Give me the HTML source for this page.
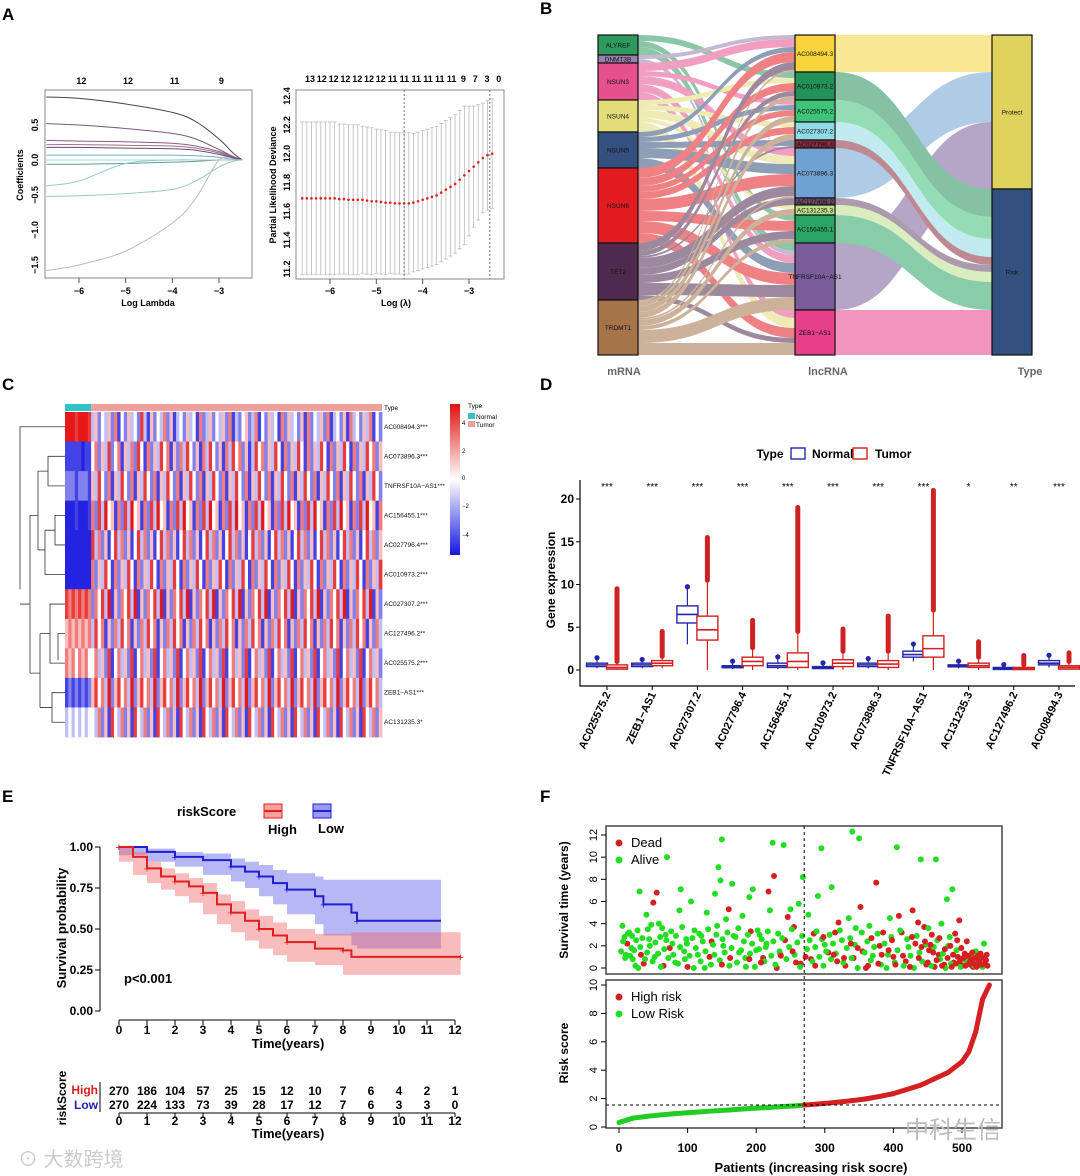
<!DOCTYPE html>
<html><head><meta charset="utf-8"><title>Figure</title>
<style>
html,body{margin:0;padding:0;background:#fff}
svg{display:block;font-family:"Liberation Sans","Noto Sans CJK SC",sans-serif}
</style></head>
<body>
<svg id="fig" width="1080" height="1176" viewBox="0 0 1080 1176" xmlns="http://www.w3.org/2000/svg">
<rect width="1080" height="1176" fill="#fff"/>
<g font-weight="bold" font-size="17">
<text x="2" y="20">A</text>
<text x="540" y="14">B</text>
<text x="2" y="390">C</text>
<text x="540" y="390">D</text>
<text x="2" y="802">E</text>
<text x="540" y="802">F</text>
</g>
<g id="gA"></g>
<g id="gB"></g>
<g id="gC"></g>
<g id="gD"></g>
<g id="gE"></g>
<g id="gF"></g>
<text x="18" y="1166" font-size="20" fill="#ccc">⊙ 大数跨境</text>
<text x="905" y="1138" font-size="24" fill="#bbb">中科生信</text>
</svg>
<script>
// ---------- DATA ----------
const lassoLambdas=[-6.7,-6,-5,-4,-3.5,-3,-2.7,-2.5];
const lassoCoefs=[
[0.9,0.88,0.8,0.68,0.55,0.3,0.1,0],[0.52,0.5,0.45,0.38,0.3,0.15,0.05,0],[0.28,0.27,0.26,0.24,0.2,0.12,0.04,0],
[0.22,0.22,0.21,0.2,0.17,0.1,0.03,0],[0.18,0.18,0.17,0.16,0.14,0.08,0.03,0],[0.07,0.07,0.07,0.07,0.06,0.04,0.01,0],
[0.0,0.0,0.0,0.0,0.0,0.0,0,0],[-0.06,-0.06,-0.05,-0.03,-0.02,0,0,0],[-0.37,-0.3,-0.05,0,0,0,0,0],
[-0.52,-0.51,-0.48,-0.42,-0.3,-0.1,-0.02,0],[-1.58,-1.5,-1.3,-0.9,-0.55,0,0,0]];
const lassoColors=["#444","#7a5a7a","#8a5a8a","#a07090","#6a4a6a","#7ac","#9dd","#699","#9cc","#9cb","#bbb"];
const cvLambdas=[-6.6,-6.5,-6.4,-6.3,-6.2,-6.1,-6,-5.9,-5.8,-5.7,-5.6,-5.5,-5.4,-5.3,-5.2,-5.1,-5,-4.9,-4.8,-4.7,-4.6,-4.5,-4.4,-4.3,-4.2,-4.1,-4,-3.9,-3.8,-3.7,-3.6,-3.5,-3.4,-3.3,-3.2,-3.1,-3,-2.9,-2.8,-2.7,-2.6,-2.5];
const cvDev=[11.69,11.69,11.69,11.69,11.69,11.69,11.69,11.69,11.685,11.685,11.68,11.68,11.68,11.68,11.675,11.67,11.67,11.665,11.66,11.66,11.655,11.655,11.655,11.655,11.66,11.67,11.68,11.69,11.70,11.71,11.73,11.75,11.77,11.79,11.82,11.85,11.88,11.91,11.94,11.97,11.99,12.0];
const cvSE=[0.53,0.53,0.53,0.53,0.53,0.53,0.53,0.53,0.52,0.52,0.52,0.52,0.52,0.51,0.51,0.51,0.5,0.5,0.5,0.49,0.49,0.49,0.49,0.49,0.48,0.48,0.48,0.48,0.48,0.48,0.48,0.48,0.48,0.48,0.48,0.48,0.45,0.42,0.4,0.38,0.38,0.38];
const cvTop=["13","12","12","12","12","12","12","11","11","11","11","11","11","9","7","3","0"];
const mrnaNames=["ALYREF","DNMT3B","NSUN3","NSUN4","NSUN5","NSUN6","TET2","TRDMT1"];
const mrnaColors=["#2e9a5e","#9a7fae","#e6508e","#e3dc7a","#34507e","#e31c22","#4e2a4e","#a5744a"];
const lncNames=["AC008494.3","AC010973.2","AC025575.2","AC027307.2","AC027796.4","AC073896.3","AC127496.2","AC131235.3","AC156455.1","TNFRSF10A−AS1","ZEB1−AS1"];
const lncColors=["#f7d43c","#23915a","#3ec378","#8fdbe5","#8a2a3a","#6fa2d2","#6a4a6a","#bde08a","#2aa464","#7a5d9a","#e6408a"];
const typeNames=["Protect","Risk"];
const typeColors=["#dfd35e","#34507e"];
const links1=[[0,1,6],[0,8,6],[0,9,8],[1,0,4],[1,9,4],[2,0,8],[2,2,5],[2,5,8],[2,9,8],[2,10,8],
[3,1,5],[3,3,5],[3,5,8],[3,7,4],[3,10,10],[4,0,5],[4,2,5],[4,4,6],[4,5,10],[4,9,10],
[5,0,10],[5,1,8],[5,2,6],[5,3,7],[5,5,12],[5,8,10],[5,9,12],[5,10,10],
[6,0,8],[6,1,5],[6,4,2],[6,5,10],[6,6,7],[6,8,8],[6,9,12],[6,10,5],
[7,0,2],[7,1,4],[7,2,6],[7,3,6],[7,5,2],[7,7,6],[7,8,4],[7,9,13],[7,10,12]];
const links2=[[0,0,37],[5,0,50],[9,0,67],[1,1,28],[2,1,22],[3,1,18],[4,1,8],[6,1,7],[7,1,10],[8,1,28],[10,1,45]];
const heatGenes=["AC008494.3***","AC073896.3***","TNFRSF10A−AS1***","AC156455.1***","AC027796.4***","AC010973.2***","AC027307.2***","AC127496.2**","AC025575.2***","ZEB1−AS1***","AC131235.3*"];
const heatNormalCols=8;
const heatRows=[
"8887888735243526142534273152436251342534162352435261324523614253416253425162435261342516342536142",
"1111101146253724615362741625374615263742516374251637462513746253741625374162537416253741625374625",
"2221222153742615374261537426153742615374261537426153742615374261537426153742615374261537426153742",
"0001000162738451627384516273845162738451627384516273845162738451627384516273845162738451627384516",
"0000000073625147362514736251473625147362514736251473625147362514736251473625147362514736251473625",
"0000000062537416253741625374162537416253741625374162537416253741625374162537416253741625374162537",
"7676767626473815264738152647381526473815264738152647381526473815264738152647381526473815264738152",
"5656565637461526374615263746152637461526374615263746152637461526374615263746152637461526374615263",
"6564656446352714635271463527146352714635271463527146352714635271463527146352714635271463527146352",
"1212121257463825746382574638257463825746382574638257463825746382574638257463825746382574638257463",
"3434343443625174362517436251743625174362517436251743625174362517436251743625174362517436251743625"];
const boxCats=["AC025575.2","ZEB1−AS1","AC027307.2","AC027796.4","AC156455.1","AC010973.2","AC073896.3","TNFRSF10A−AS1","AC131235.3","AC127496.2","AC008494.3"];
const boxNormal=[[0.2,0.4,0.6,0.8,1.2],[0.2,0.4,0.6,0.8,1.0],[3,5.5,6.5,7.5,9.5],[0.1,0.3,0.4,0.5,0.8],[0.1,0.3,0.5,0.8,1.3],[0.1,0.2,0.3,0.4,0.6],[0.2,0.4,0.6,0.8,1.1],[1.0,1.5,1.8,2.2,2.8],[0.2,0.4,0.5,0.6,0.8],[0,0.1,0.2,0.3,0.4],[0.3,0.6,0.8,1.1,1.5]];
const boxTumor=[[0,0.1,0.3,0.6,1.0],[0.2,0.5,0.8,1.1,1.6],[0,3.5,4.7,6.3,10.5],[0,0.5,1,1.5,2.6],[0,0.3,1,2,4.5],[0,0.4,0.8,1.2,2.2],[0,0.3,0.7,1.1,2.2],[0,1.5,2.5,4,7],[0,0.3,0.5,0.8,1.5],[0,0.05,0.15,0.3,0.6],[0,0.1,0.3,0.5,1]];
const boxOutMax=[9.5,4.5,15.5,5.8,19,4.8,6.3,21,3.3,1.7,2];
const boxSig=["***","***","***","***","***","***","***","***","*","**","***"];
const kmHighT=[0,0.5,1,1.5,2,2.5,3,3.5,4,4.5,5,5.5,6,7,8,8.3,12.2];
const kmHighS=[1,0.94,0.87,0.82,0.79,0.76,0.72,0.65,0.6,0.55,0.5,0.46,0.42,0.38,0.37,0.33,0.33];
const kmHighLo=[1,0.91,0.83,0.78,0.74,0.7,0.66,0.59,0.53,0.48,0.43,0.38,0.34,0.3,0.28,0.22,0.22];
const kmHighHi=[1,0.97,0.91,0.87,0.84,0.81,0.78,0.71,0.67,0.62,0.58,0.54,0.5,0.47,0.47,0.48,0.48];
const kmLowT=[0,1,2,3,4,4.5,5,5.5,6,7,7.3,8.3,8.5,11.5];
const kmLowS=[1,0.97,0.94,0.92,0.88,0.85,0.82,0.78,0.74,0.7,0.65,0.6,0.55,0.55];
const kmLowLo=[1,0.95,0.91,0.88,0.83,0.79,0.75,0.7,0.65,0.59,0.53,0.46,0.4,0.38];
const kmLowHi=[1,0.99,0.97,0.96,0.93,0.91,0.89,0.86,0.84,0.82,0.8,0.8,0.8,0.8];
const riskHigh=["270","186","104","57","25","15","12","10","7","6","4","2","1"];
const riskLow=["270","224","133","73","39","28","17","12","7","6","3","3","0"];
const survPts=[[5,3.8,0],[8,2.8,0],[10,1.2,0],[12,2.2,1],[15,3.2,0],[18,1.8,0],[20,0.8,0],[25,2.5,0],[28,0,0],[30,6.9,0],[32,1.2,1],[36,0.4,1],[40,4.8,0],[42,3.5,0],[45,2,0],[50,5.9,1],[52,1,0],[55,6.8,1],[58,4,0],[60,2.8,0],[65,0.2,1],[68,3,0],[70,10,0],[74,1.8,1],[78,2.2,0],[82,0.5,0],[88,5.2,0],[90,7.1,0],[95,1.5,0],[98,2.6,0],[100,0.1,1],[105,6,0],[110,3.4,0],[115,1.2,0],[120,2.9,0],[125,0,0],[128,5,0],[132,1,1],[135,2.4,1],[140,6.7,0],[142,3,0],[145,9.1,0],[148,7.9,0],[150,11.6,0],[152,2,0],[156,4.4,0],[160,5.3,1],[162,0.9,1],[165,7.6,0],[170,2.8,0],[175,1.4,0],[180,4.7,0],[185,0.1,0],[190,6.4,0],[192,3.3,1],[195,7.1,0],[200,1.6,0],[205,3,0],[210,0.9,1],[215,2.2,0],[218,6.9,1],[220,5.2,0],[224,11.3,0],[226,8.3,1],[230,0,1],[235,1.3,0],[240,11.1,0],[242,2.5,1],[246,4.6,1],[250,5.3,0],[255,3.7,1],[258,0.5,1],[262,5.8,0],[265,0.4,1],[268,8.2,0],[272,1,1],[276,4.8,0],[280,0.8,1],[284,3.1,1],[290,6.5,0],[295,10.8,0],[300,2.1,0],[305,1.4,1],[310,7.3,0],[315,3.2,1],[318,0.6,1],[320,4.1,1],[325,2.5,0],[330,0.2,1],[335,4.5,0],[340,12.3,0],[342,0.9,1],[345,3.6,0],[350,11.7,0],[352,5.5,1],[355,1.5,1],[360,0,1],[365,3.8,0],[370,1.1,0],[375,7.7,1],[380,2,1],[385,3.2,1],[390,0,0],[395,4.5,0],[400,1,1],[405,10.9,0],[408,4.7,1],[412,3.2,1],[418,0.6,1],[422,1.9,0],[428,5.2,1],[432,2.2,1],[436,4.1,1],[440,9.8,0],[445,3.7,1],[448,0.3,1],[452,1.6,1],[456,3,1],[460,0.1,1],[462,9.8,0],[466,1.2,1],[470,4,0],[474,0.3,1],[478,6.2,0],[482,2.8,0],[486,7.1,0],[488,0.5,1],[490,3.1,1],[494,1,1],[496,4.3,1],[500,0.2,1],[504,1.3,1],[508,0.8,1],[512,0.3,1],[516,0.1,1],[520,1.5,0],[524,0.5,1],[528,0.2,1],[532,2.2,0],[535,0.7,1],
[3,1.5,0],[6,2.4,0],[9,0.9,0],[13,3.1,0],[16,1.1,0],[19,2.9,0],[22,1.6,0],[24,0.2,0],[27,3.4,0],[31,1.9,0],[34,2.7,0],[38,0.8,0],[41,1.4,0],[44,2.6,0],[47,3.9,0],[49,0.6,0],[53,2.3,0],[57,1.3,0],[61,0.1,0],[63,3.6,0],[66,1.7,0],[69,2.5,0],[72,0.9,0],[76,3.3,0],[79,1.2,0],[83,2.9,0],[86,0.4,0],[89,1.9,0],[92,3.7,0],[96,0.8,0],[99,2.2,0],[103,1.1,0],[107,2.7,0],[109,0,0],[112,1.8,0],[117,3.1,0],[119,0.6,0],[122,2.4,0],[126,1.5,0],[130,3.5,0],[134,0.3,0],[137,2.1,0],[139,1.2,0],[143,3.8,0],[147,0.7,0],[151,2.6,0],[154,1.4,0],[158,3.2,0],[161,0.2,0],[164,1.8,0],[167,2.9,0],[172,0.5,0],[174,3.6,0],[178,1.6,0],[182,2.4,0],[184,0.9,0],[188,3,0],[191,1.3,0],[194,2.2,0],[198,0.1,0],[202,3.4,0],[204,1.7,0],[208,2.6,0],[212,0.6,0],[214,1.9,0],[217,3.3,0],[222,1.1,0],[225,2.4,0],[228,0.3,0],[232,3.1,0],[234,1.5,0],[238,2.7,0],[244,0.8,0],[248,1.9,0],[252,3.5,0],[256,1.2,0],[260,2.3,0],[264,0.1,0],[267,2.9,0],[274,1.7,0],[278,2.5,0],[282,0.6,0],[286,1.9,0],[288,3.3,0],[292,1,0],[296,2.6,0],[298,0.2,0],[302,1.5,0],[307,3,0],[309,0.8,0],[312,2.2,0],[316,1.3,0],[322,3.4,0],[327,0.5,0],[332,1.8,0],[337,2.7,0],[339,0.9,0],[344,2.1,0],[348,0,0],[354,3.2,0],[358,1.4,0],[362,2.4,0],[367,0.7,0],[372,1.9,0],[377,3.1,0],[382,0.3,0],[387,2.2,0],[392,1.2,0],[397,2.8,0],[402,0.5,0],[406,1.6,0],[410,3.4,0],[415,0.2,0],[420,2.6,0],[425,1.1,0],[430,0,0],[434,2.9,0],[438,1.4,0],[442,0.6,0],[447,2.1,0],[451,3.6,0],[455,0.2,0],[459,1.9,0],[464,2.5,0],[468,0.8,0],[472,1.3,0],[476,0,0],[480,2,0],[484,0.4,0],[492,1.6,0],[498,0.1,0],[506,0.6,0],[514,1,0],[518,0.2,0],[526,0.9,0],[530,0.1,0],
[150,0.3,1],[190,0.8,1],[207,0.5,1],[236,1.1,1],[253,1.5,1],[286,0.2,1],[298,2.8,1],[313,1.2,1],[328,0.9,1],[338,2.2,1],[348,1.8,1],[363,0.2,1],[368,2.7,1],[378,0.4,1],[383,1.2,1],[393,1.6,1],[398,2.5,1],[403,0.3,1],[414,1.1,1],[424,0.1,1],[427,2.8,1],[437,0.9,1],[441,1.9,1],[446,2.4,1],[450,0.5,1],[454,2.1,1],[458,1.4,1],[463,0.7,1],[467,2.7,1],[471,0.2,1],[475,1.7,1],[479,0.9,1],[483,2,1],[485,0.1,1],[487,1.2,1],[491,0.4,1],[493,2.5,1],[497,0.6,1],[499,1.8,1],[502,0.9,1],[505,0.2,1],[507,2.4,1],[509,1.1,1],[511,0.5,1],[513,0.8,1],[515,1.4,1],[517,0.4,1],[519,0.9,1],[521,0.1,1],[523,1.1,1],[525,0.6,1],[527,1.3,1],[529,0.3,1],[531,0.9,1],[533,0.4,1],[536,1.2,1],[537,0.2,1]];
const riskIdx=[0,20,40,60,80,100,120,140,160,180,200,220,240,260,270,280,300,320,340,360,380,400,420,440,460,480,500,510,520,530,540];
const riskVal=[0.32,0.62,0.75,0.85,0.93,1.0,1.07,1.14,1.2,1.27,1.33,1.38,1.44,1.5,1.55,1.58,1.66,1.75,1.86,1.98,2.15,2.35,2.65,2.95,3.4,3.85,4.6,5.3,6.7,9.0,10.0];
const riskCut=1.55, riskSplit=270;

// ---------- HELPERS ----------
const NS="http://www.w3.org/2000/svg";
function mk(tag,attrs,parent){const e=document.createElementNS(NS,tag);for(const k in attrs)e.setAttribute(k,attrs[k]);parent.appendChild(e);return e;}
function txt(s,x,y,attrs,parent){const e=mk("text",Object.assign({x:x,y:y},attrs),parent);e.textContent=s;return e;}
function lin(d0,d1,r0,r1){return v=>r0+(v-d0)/(d1-d0)*(r1-r0);}
function smooth(pts){let d=`M${pts[0][0]},${pts[0][1]}`;for(let i=0;i<pts.length-1;i++){const p0=pts[Math.max(i-1,0)],p1=pts[i],p2=pts[i+1],p3=pts[Math.min(i+2,pts.length-1)];
 d+=` C${p1[0]+(p2[0]-p0[0])/6},${p1[1]+(p2[1]-p0[1])/6} ${p2[0]-(p3[0]-p1[0])/6},${p2[1]-(p3[1]-p1[1])/6} ${p2[0]},${p2[1]}`;}return d;}

// ---------- PANEL A ----------
(function(){
const g=document.getElementById("gA");
const x=lin(-6,-3,79,219), y=lin(0,1,160,90);
let fr=mk("rect",{x:45,y:90,width:207,height:188,fill:"none",stroke:"#888"},g);


lassoCoefs.forEach((c,i)=>{
 const pts=c.map((v,j)=>[x(lassoLambdas[j]),y(v)]);
 const p=mk("path",{d:smooth(pts),fill:"none",stroke:lassoColors[i],"stroke-width":1},g);
 
 
});
[-6,-5,-4,-3].forEach(v=>{
 mk("line",{x1:x(v),x2:x(v),y1:278,y2:283,stroke:"#555"},g);
 const t=txt(String(v).replace("-","−"),x(v),294,{"font-size":9,"text-anchor":"middle","font-weight":"bold"},g);
 
 
});
[["12",-5.95],["12",-4.95],["11",-3.95],["9",-2.95]].forEach(a=>{
 const t=txt(a[0],x(a[1]),84,{"font-size":9,"text-anchor":"middle","font-weight":"bold"},g);
 
 
});
[0.5,0,-0.5,-1.0,-1.5].forEach(v=>{
 const t=txt(v.toFixed(1).replace("-","−"),38,y(v),{"font-size":9,"text-anchor":"middle","font-weight":"bold",transform:`rotate(-90 38 ${y(v)})`},g);
 
 
});
let t=txt("Coefficients",23,175,{"font-size":9,"font-weight":"bold","text-anchor":"middle",transform:"rotate(-90 23 175)"},g);


t=txt("Log Lambda",148,306,{"font-size":9,"font-weight":"bold","text-anchor":"middle"},g);


const x2=lin(-6,-3,330,469);
const yy=v=>269-(v-11.2)*(269-96)/1.2;
fr=mk("rect",{x:296,y:90,width:208,height:189,fill:"none",stroke:"#888"},g);


cvLambdas.forEach((l,i)=>{
 const cx=x2(l),lo=yy(cvDev[i]-cvSE[i]),hi=yy(cvDev[i]+cvSE[i]);
 mk("line",{x1:cx,x2:cx,y1:lo,y2:hi,stroke:"#bbb","stroke-width":0.8},g);
 mk("line",{x1:cx-2,x2:cx+2,y1:lo,y2:lo,stroke:"#bbb","stroke-width":0.8},g);
 mk("line",{x1:cx-2,x2:cx+2,y1:hi,y2:hi,stroke:"#bbb","stroke-width":0.8},g);
 const c=mk("circle",{cx:cx,cy:yy(cvDev[i]),r:1.3,fill:"#e02020"},g);
 
 
});
[-4.4,-2.55].forEach(v=>{const l=mk("line",{x1:x2(v),x2:x2(v),y1:90,y2:279,stroke:"#555","stroke-dasharray":"2,2","stroke-width":0.8},g);
 
 });
[-6,-5,-4,-3].forEach(v=>{
 mk("line",{x1:x2(v),x2:x2(v),y1:279,y2:284,stroke:"#555"},g);
 const t=txt(String(v).replace("-","−"),x2(v),294,{"font-size":9,"text-anchor":"middle","font-weight":"bold"},g);
 
 
});
cvTop.forEach((s,i)=>{
 const t=txt(s,310+i*11.8,82,{"font-size":9,"text-anchor":"middle","font-weight":"bold"},g);
 
 
});
[11.2,11.4,11.6,11.8,12.0,12.2,12.4].forEach(v=>{
 const t=txt(v.toFixed(1),290,yy(v),{"font-size":9,"text-anchor":"middle","font-weight":"bold",transform:`rotate(-90 290 ${yy(v)})`},g);
 
 
});
t=txt("Partial Likelihood Deviance",276,185,{"font-size":9,"font-weight":"bold","text-anchor":"middle",transform:"rotate(-90 276 185)"},g);


t=txt("Log (λ)",396,306,{"font-size":9,"font-weight":"bold","text-anchor":"middle"},g);


})();

// ---------- PANEL B ----------
(function(){
const g=document.getElementById("gB");
const top=35, X=[598,795,992], W=40;
function stack(n,links,key){const s=new Array(n).fill(0);links.forEach(l=>s[l[key]]+=l[2]);const y=[];let c=top;s.forEach(v=>{y.push(c);c+=v;});return {s,y};}
const L=stack(8,links1,0), M=stack(11,links1,1), T=stack(2,links2,1);
const lo=L.y.slice(), mi=M.y.slice(), mo=M.y.slice(), ti=T.y.slice();
const lg=mk("g",{opacity:0.55},g);
function band(x0,y0,x1,y1,h,color,name){
 const cx=(x0+x1)/2;
 const d=`M${x0},${y0} C${cx},${y0} ${cx},${y1} ${x1},${y1} L${x1},${y1+h} C${cx},${y1+h} ${cx},${y0+h} ${x0},${y0+h} Z`;
 const p=mk("path",{d:d,fill:color},lg);
 
 
}
links1.forEach(l=>{band(X[0]+W,lo[l[0]],X[1],mi[l[1]],l[2],mrnaColors[l[0]],"flow-mrna-lncrna");lo[l[0]]+=l[2];mi[l[1]]+=l[2];});
links2.forEach(l=>{band(X[1]+W,mo[l[0]],X[2],ti[l[1]],l[2],lncColors[l[0]],"flow-lncrna-type");mo[l[0]]+=l[2];ti[l[1]]+=l[2];});
function nodes(S,names,colors,x,nm){
 names.forEach((n,i)=>{
  const r=mk("rect",{x:x,y:S.y[i],width:W,height:S.s[i],fill:colors[i],stroke:"#111","stroke-width":1.2},g);
  
  
  const t=txt(n,x+W/2,S.y[i]+S.s[i]/2+2.5,{"font-size":6.5,"text-anchor":"middle",fill:"#111"},g);
  
  
 });
}
nodes(L,mrnaNames,mrnaColors,X[0],"mrna");
nodes(M,lncNames,lncColors,X[1],"lncrna");
nodes(T,typeNames,typeColors,X[2],"type");
[["mRNA",624],["lncRNA",828],["Type",1030]].forEach(a=>{
 const t=txt(a[0],a[1],375,{"font-size":11,"font-weight":"bold","text-anchor":"middle",fill:"#666"},g);
 
 
});
})();

// ---------- PANEL C ----------
(function(){
const g=document.getElementById("gC");
const x0=65,x1=382,y0=412,y1=737,nr=heatRows.length,nc=heatRows[0].length;
const cw=(x1-x0)/nc, rh=(y1-y0)/nr;
function col(v){const t=Math.min(Math.abs(v)/3.5,1);const c=v>0?[230,25,25]:[35,35,225];
 return `rgb(${Math.round(255+(c[0]-255)*t)},${Math.round(255+(c[1]-255)*t)},${Math.round(255+(c[2]-255)*t)})`;}
heatRows.forEach((row,r)=>{
 for(let c=0;c<nc;c++){
  const v=parseInt(row[c])-4;
  const e=mk("rect",{x:x0+c*cw,y:y0+r*rh,width:cw+0.4,height:rh+0.4,fill:col(v)},g);
  
  
 }
 const t=txt(heatGenes[r],384,y0+r*rh+rh/2+2,{"font-size":6.5,fill:"#111"},g);
 
 
});
let a=mk("rect",{x:x0,y:404,width:heatNormalCols*cw,height:7,fill:"#2ec4c8"},g);


a=mk("rect",{x:x0+heatNormalCols*cw,y:404,width:(nc-heatNormalCols)*cw,height:7,fill:"#f0a09a"},g);


let t=txt("Type",384,410,{"font-size":6.5},g);


const rc=i=>y0+i*rh+rh/2;
const dd=mk("path",{fill:"none",stroke:"#333","stroke-width":0.8,d:
`M65,${rc(0)}H20V${(rc(1)+rc(10))/2} M20,${rc(0)}V${rc(5)} M65,${rc(1)}H48V${rc(2)}H65 M48,${(rc(1)+rc(2))/2}H38 M65,${rc(3)}H55V${rc(4)}H65 M55,${(rc(3)+rc(4))/2}H45 M65,${rc(5)}H45V${(rc(3)+rc(4))/2} M45,${rc(4)+5}H38 M38,${(rc(1)+rc(2))/2}V${rc(4)+5} M38,${rc(3)}H30 M65,${rc(6)}H50V${rc(8)}H65 M65,${rc(7)}H58V${rc(8)-3} M65,${rc(9)}H52V${rc(10)}H65 M52,${(rc(9)+rc(10))/2}H40 M50,${rc(7)}H40 M40,${rc(7)}V${(rc(9)+rc(10))/2} M40,${rc(8)+10}H30 M30,${rc(3)}V${rc(8)+10} M30,${rc(6)}H20`},g);


const defs=mk("defs",{},g);
const lgd=mk("linearGradient",{id:"hg",x1:0,y1:0,x2:0,y2:1},defs);
[["0","#e01010"],["0.5","#fff"],["1","#1515e0"]].forEach(s=>mk("stop",{offset:s[0],"stop-color":s[1]},lgd));
const cb=mk("rect",{x:450,y:404,width:10,height:151,fill:"url(#hg)"},g);


[["4",425],["2",453],["0",480],["−2",508],["−4",537]].forEach(s=>{
 const t=txt(s[0],462,s[1],{"font-size":6},g);
 
 
});
t=txt("Type",468,408,{"font-size":6.5},g);
let r=mk("rect",{x:468,y:413,width:7,height:6,fill:"#2ec4c8"},g);
r=mk("rect",{x:468,y:421,width:7,height:6,fill:"#f0a09a"},g);
t=txt("Normal",476,419,{"font-size":6.5},g);
t=txt("Tumor",476,427,{"font-size":6.5},g);
})();

// ---------- PANEL D ----------
(function(){
const g=document.getElementById("gD");
const y=lin(0,20,670,499), x=i=>607+i*45.2;
const fr=mk("path",{d:"M580,480V686H1075",fill:"none",stroke:"#000","stroke-width":1.2},g);


[0,5,10,15,20].forEach(v=>{
 mk("line",{x1:576,x2:580,y1:y(v),y2:y(v),stroke:"#000"},g);
 const t=txt(String(v),574,y(v)+4,{"font-size":12,"text-anchor":"end","font-weight":"bold"},g);
 
 
});
let t=txt("Gene expression",555,580,{"font-size":12,"font-weight":"bold","text-anchor":"middle",transform:"rotate(-90 555 580)"},g);

function box(cx,q,color,nm){
 const w=21;
 mk("line",{x1:cx,x2:cx,y1:y(q[0]),y2:y(q[1]),stroke:color,"stroke-width":1.2},g);
 mk("line",{x1:cx,x2:cx,y1:y(q[3]),y2:y(q[4]),stroke:color,"stroke-width":1.2},g);
 const b=mk("rect",{x:cx-w/2,y:y(q[3]),width:w,height:Math.max(y(q[1])-y(q[3]),2),fill:"#fff",stroke:color,"stroke-width":1.4},g);
 
 
 mk("line",{x1:cx-w/2,x2:cx+w/2,y1:y(q[2]),y2:y(q[2]),stroke:color,"stroke-width":1.6},g);
}
boxCats.forEach((c,i)=>{
 const cx=x(i);
 const on=mk("circle",{cx:cx-10,cy:y(boxNormal[i][4])-2,r:2.6,fill:"#2326a8"},g);
 
 
 box(cx-10,boxNormal[i],"#2326a8","box-normal");
 const ol=mk("line",{x1:cx+10,x2:cx+10,y1:y(boxTumor[i][4]),y2:y(boxOutMax[i]),stroke:"#cc2222","stroke-width":5,"stroke-linecap":"round"},g);
 
 
 box(cx+10,boxTumor[i],"#d42020","box-tumor");
 mk("line",{x1:cx,x2:cx,y1:686,y2:690,stroke:"#000"},g);
 const lt=txt(c,cx+4,694,{"font-size":11,"font-weight":"bold","text-anchor":"end",transform:`rotate(-65 ${cx+4} 694)`},g);
 
 
 const st=txt(boxSig[i],cx,490,{"font-size":10,"text-anchor":"middle"},g);
 
 
});
t=txt("Type",770,458,{"font-size":12,"font-weight":"bold","text-anchor":"middle"},g);
let r=mk("rect",{x:791,y:448,width:14,height:11,fill:"none",stroke:"#2326a8","stroke-width":1.4},g);
t=txt("Normal",812,458,{"font-size":12,"font-weight":"bold"},g);
r=mk("rect",{x:853,y:448,width:14,height:11,fill:"none",stroke:"#d42020","stroke-width":1.4},g);
t=txt("Tumor",875,458,{"font-size":12,"font-weight":"bold"},g);
})();

// ---------- PANEL E ----------
(function(){
const g=document.getElementById("gE");
const x=lin(0,12,119,455), y=lin(0,1,1011,847);
function stepPath(T,S){let d=`M${x(T[0])},${y(S[0])}`;for(let i=1;i<T.length;i++)d+=` H${x(T[i])} V${y(S[i])}`;return d;}
function bandPath(T,Lo,Hi){let d=`M${x(T[0])},${y(Hi[0])}`;for(let i=1;i<T.length;i++)d+=` H${x(T[i])} V${y(Hi[i])}`;
 d+=` V${y(Lo[T.length-1])}`;for(let i=T.length-1;i>0;i--)d+=` V${y(Lo[i])} H${x(T[i-1])}`;return d+" Z";}
let p=mk("path",{d:bandPath(kmLowT,kmLowLo,kmLowHi),fill:"#4a4ae6",opacity:0.4},g);
p=mk("path",{d:bandPath(kmHighT,kmHighLo,kmHighHi),fill:"#f26a6a",opacity:0.45},g);
p=mk("path",{d:stepPath(kmLowT,kmLowS),fill:"none",stroke:"#1f1fd0","stroke-width":2},g);
p=mk("path",{d:stepPath(kmHighT,kmHighS),fill:"none",stroke:"#e01f1f","stroke-width":2},g);
kmLowT.forEach((tt,i)=>{if(i%2)return;const c=txt("+",x(tt),y(kmLowS[i])+4,{"font-size":11,fill:"#1f1fd0","text-anchor":"middle"},g);});
kmHighT.forEach((tt,i)=>{if(i%2)return;const c=txt("+",x(tt),y(kmHighS[i])+4,{"font-size":11,fill:"#e01f1f","text-anchor":"middle"},g);});
mk("line",{x1:100,x2:100,y1:y(0),y2:y(1),stroke:"#000"},g);
[0,0.25,0.5,0.75,1].forEach(v=>{mk("line",{x1:95,x2:100,y1:y(v),y2:y(v),stroke:"#000"},g);
 const t=txt(v.toFixed(2),93,y(v)+4,{"font-size":12,"font-weight":"bold","text-anchor":"end"},g);
 });
mk("line",{x1:x(0),x2:x(12),y1:1020,y2:1020,stroke:"#000"},g);
for(let i=0;i<=12;i++){mk("line",{x1:x(i),x2:x(i),y1:1020,y2:1025,stroke:"#000"},g);
 const t=txt(String(i),x(i),1034,{"font-size":12,"font-weight":"bold","text-anchor":"middle"},g);
 
 const a=txt(riskHigh[i],x(i),1095,{"font-size":12,"font-weight":"bold","text-anchor":"middle"},g);
 
 const b=txt(riskLow[i],x(i),1109,{"font-size":12,"font-weight":"bold","text-anchor":"middle"},g);
 
 mk("line",{x1:x(i),x2:x(i),y1:1113,y2:1117,stroke:"#000"},g);
 const c=txt(String(i),x(i),1125,{"font-size":12,"font-weight":"bold","text-anchor":"middle"},g);
 }
mk("line",{x1:x(0),x2:x(12),y1:1113,y2:1113,stroke:"#000"},g);
mk("line",{x1:100,x2:100,y1:1082,y2:1112,stroke:"#000"},g);
let t=txt("Time(years)",288,1048,{"font-size":13,"font-weight":"bold","text-anchor":"middle"},g);
t=txt("Time(years)",288,1138,{"font-size":13,"font-weight":"bold","text-anchor":"middle"},g);
t=txt("Survival probability",66,928,{"font-size":13,"font-weight":"bold","text-anchor":"middle",transform:"rotate(-90 66 928)"},g);
t=txt("riskScore",66,1098,{"font-size":12,"font-weight":"bold","text-anchor":"middle",transform:"rotate(-90 66 1098)"},g);
t=txt("High",98,1094,{"font-size":12,"font-weight":"bold","text-anchor":"end",fill:"#d42020"},g);
t=txt("Low",98,1109,{"font-size":12,"font-weight":"bold","text-anchor":"end",fill:"#2326a8"},g);
t=txt("p<0.001",124,983,{"font-size":13,"font-weight":"bold"},g);
t=txt("riskScore",177,816,{"font-size":13,"font-weight":"bold"},g);
let r=mk("rect",{x:264,y:804,width:18,height:14,fill:"#f6a0a0",stroke:"#e01f1f"},g);
mk("line",{x1:264,x2:282,y1:811,y2:811,stroke:"#e01f1f","stroke-width":2},g);
r=mk("rect",{x:313,y:804,width:18,height:14,fill:"#9a9af0",stroke:"#1f1fd0"},g);
mk("line",{x1:313,x2:331,y1:811,y2:811,stroke:"#1f1fd0","stroke-width":2},g);
t=txt("High",268,834,{"font-size":13,"font-weight":"bold"},g);
t=txt("Low",318,833,{"font-size":13,"font-weight":"bold"},g);
})();

// ---------- PANEL F ----------
(function(){
const g=document.getElementById("gF");
const x=lin(0,500,619,962), yT=lin(0,12,968,835), yB=lin(0,10,1127,985);
let fr=mk("rect",{x:606,y:826,width:396,height:148,fill:"none",stroke:"#444","stroke-width":1.5},g);
fr=mk("rect",{x:606,y:980,width:396,height:148,fill:"none",stroke:"#444","stroke-width":1.5},g);
survPts.forEach(p=>{
 const c=mk("circle",{cx:x(p[0]),cy:yT(p[1]),r:3,fill:p[2]?"#d42020":"#22dd22"},g);
 
 
});
for(let i=1;i<riskIdx.length;i++){
 const col=riskIdx[i]<=riskSplit?"#22cc22":"#d42020";
 const s=mk("line",{x1:x(riskIdx[i-1]),y1:yB(riskVal[i-1]),x2:x(riskIdx[i]),y2:yB(riskVal[i]),stroke:col,"stroke-width":5,"stroke-linecap":"round"},g);
 
 
}
let l=mk("line",{x1:x(riskSplit),x2:x(riskSplit),y1:826,y2:1128,stroke:"#000","stroke-dasharray":"3,3"},g);
l=mk("line",{x1:606,x2:1002,y1:yB(riskCut),y2:yB(riskCut),stroke:"#000","stroke-dasharray":"3,3"},g);
[0,2,4,6,8,10,12].forEach(v=>{mk("line",{x1:601,x2:606,y1:yT(v),y2:yT(v),stroke:"#000"},g);
 const t=txt(String(v),597,yT(v),{"font-size":11,"text-anchor":"middle",transform:`rotate(-90 597 ${yT(v)})`},g);
 });
[0,2,4,6,8,10].forEach(v=>{mk("line",{x1:601,x2:606,y1:yB(v),y2:yB(v),stroke:"#000"},g);
 const t=txt(String(v),597,yB(v),{"font-size":11,"text-anchor":"middle",transform:`rotate(-90 597 ${yB(v)})`},g);
 });
[0,100,200,300,400,500].forEach(v=>{mk("line",{x1:x(v),x2:x(v),y1:1128,y2:1133,stroke:"#000"},g);
 const t=txt(String(v),x(v),1152,{"font-size":12,"font-weight":"bold","text-anchor":"middle"},g);
 });
let t=txt("Patients (increasing risk socre)",811,1172,{"font-size":13,"font-weight":"bold","text-anchor":"middle"},g);
t=txt("Survival time (years)",568,900,{"font-size":12,"font-weight":"bold","text-anchor":"middle",transform:"rotate(-90 568 900)"},g);
t=txt("Risk score",568,1053,{"font-size":12,"font-weight":"bold","text-anchor":"middle",transform:"rotate(-90 568 1053)"},g);
[["Dead","#d42020",847],["Alive","#22dd22",864],["High risk","#d42020",1001],["Low Risk","#22dd22",1018]].forEach(a=>{
 const c=mk("circle",{cx:619,cy:a[2]-4,r:3.5,fill:a[1]},g);
 const s=txt(a[0],631,a[2],{"font-size":13},g);
});
})();
</script>
</body></html>
